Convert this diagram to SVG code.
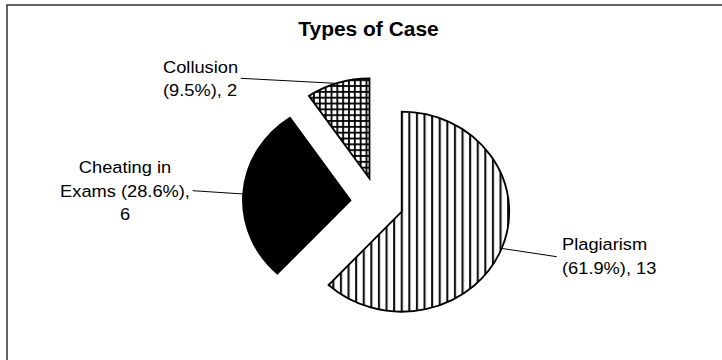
<svg xmlns="http://www.w3.org/2000/svg" width="722" height="360" viewBox="0 0 722 360">
  <style>
    .lbl { font-family: "Liberation Sans", Arial, sans-serif; font-size: 17px; fill: #000; }
    .title { font-family: "Liberation Sans", Arial, sans-serif; font-size: 19.5px; font-weight: bold; fill: #000; }
    .slice { stroke: #000; stroke-width: 1.8; stroke-linejoin: miter; }
    .leader { stroke: #000; stroke-width: 1; fill: none; }
  </style>
  <defs>
    <pattern id="vlines" patternUnits="userSpaceOnUse" x="408.3" y="0" width="7.6" height="10">
      <rect x="0" y="0" width="7.6" height="10" fill="#fff"/>
      <rect x="0" y="0" width="2.1" height="10" fill="#111"/>
    </pattern>
    <pattern id="grid" patternUnits="userSpaceOnUse" x="336.4" y="85.1" width="5.83" height="5.83">
      <rect x="0" y="0" width="5.83" height="5.83" fill="#fff"/>
      <rect x="0" y="0" width="5.83" height="1.8" fill="#000"/>
      <rect x="0" y="0" width="1.8" height="5.83" fill="#000"/>
    </pattern>
  </defs>
  <rect x="0" y="0" width="722" height="360" fill="#fff"/>
  <rect id="frame" x="7" y="5" width="800" height="420" fill="none" stroke="#222" stroke-width="1.4"/>
  <g id="title">
    <text class="title" text-anchor="middle" transform="translate(368.5,36) scale(1.075,1)">Types of Case</text>
  </g>
  <g id="connectors">
    <line class="leader" x1="240.7" y1="78.3" x2="335" y2="83.3"/>
    <line class="leader" x1="192.7" y1="190.7" x2="243.5" y2="194"/>
    <line class="leader" x1="501.7" y1="248.4" x2="556.7" y2="256.7"/>
  </g>
  <g id="node-plagiarism">
    <path class="slice" fill="url(#vlines)" d="M401.7,211.7 L401.7,111.7 A107.5,100 0 1 1 328.58,285.01 Z"/>
    <text class="lbl" transform="translate(562,250) scale(1.075,1)">Plagiarism</text>
    <text class="lbl" transform="translate(562,273.5) scale(1.075,1)">(61.9%), 13</text>
  </g>
  <g id="node-cheating">
    <path class="slice" fill="#000" d="M350.5,200.3 L277.38,273.61 A107.5,100 0 0 1 289.94,117.68 Z"/>
    <text class="lbl" text-anchor="middle" transform="translate(125,173.3) scale(1.075,1)">Cheating in</text>
    <text class="lbl" text-anchor="middle" transform="translate(125,196.5) scale(1.075,1)">Exams (28.6%),</text>
    <text class="lbl" text-anchor="middle" transform="translate(125,219.5) scale(1.075,1)">6</text>
  </g>
  <g id="node-collusion">
    <path class="slice" fill="url(#grid)" d="M369.5,178.5 L308.94,95.88 A107.5,100 0 0 1 369.5,78.5 Z"/>
    <text class="lbl" transform="translate(163,72.5) scale(1.075,1)">Collusion</text>
    <text class="lbl" transform="translate(163,95.5) scale(1.075,1)">(9.5%), 2</text>
  </g>
</svg>
